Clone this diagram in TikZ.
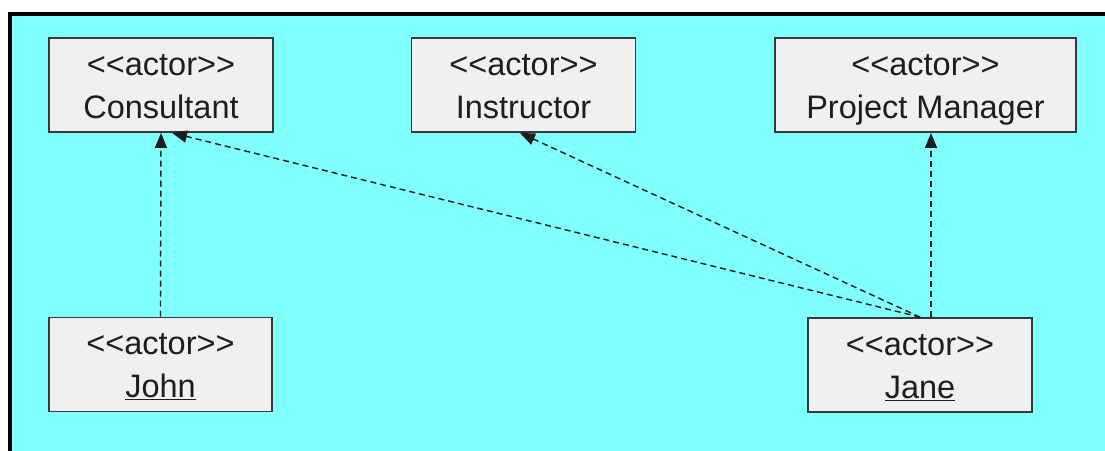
\documentclass[tikz,border=0pt]{standalone}
\usepackage{fontspec}
\newfontfamily\umlfont{Liberation Sans}
\usetikzlibrary{arrows.meta,calc}
\definecolor{canvas}{HTML}{80FFFF}
\definecolor{boxfill}{HTML}{F0F0F0}
\definecolor{boxline}{HTML}{333A3A}
\definecolor{ink}{HTML}{1E1E1E}
\newcommand\stereotype[1]{<\kern0pt<#1>\kern0pt>}
\tikzset{
  actorbox/.style={draw=boxline, line width=1.8pt, fill=boxfill,
    minimum width=224pt, minimum height=94pt, inner sep=0pt,
    text height=75pt, text depth=9pt,
    align=center, text=ink, font=\umlfont\fontsize{32.5}{43}\selectfont},
  dependency/.style={draw=ink, line width=1.4pt, dash pattern=on 6pt off 4pt,
    -{Triangle[length=15pt,width=12pt]}},
}
\begin{document}
\begin{tikzpicture}[x=1pt,y=-1pt]
  \useasboundingbox (0,0) rectangle (1105,450);
  \begin{scope}
    \clip (0,0) rectangle (1105,450);
    \draw[line width=4pt, fill=canvas] (10,14) rectangle (1130,480);
  \end{scope}

  \node[actorbox] (consultant) at (161,85)   {\stereotype{actor}\\Consultant};
  \node[actorbox] (instructor) at (523.5,85) {\stereotype{actor}\\Instructor};
  \node[actorbox, minimum width=301pt] (pm) at (925.5,85) {\stereotype{actor}\\Project Manager};
  \node[actorbox, minimum width=223pt] (john) at (160.5,364.5) {\stereotype{actor}\\\underline{John}};
  \node[actorbox] (jane) at (920,365) {\stereotype{actor}\\\underline{Jane}};

  \draw[dependency] (john.north) -- (consultant.south);
  \draw[dependency] (jane.north) -- ($(consultant.south)+(11,0)$);
  \draw[dependency] (jane.north) -- ($(instructor.south)+(-3.5,0)$);
  \draw[dependency] ($(jane.north)+(11,0)$) -- ($(pm.south)+(5.5,0)$);
\end{tikzpicture}
\end{document}
